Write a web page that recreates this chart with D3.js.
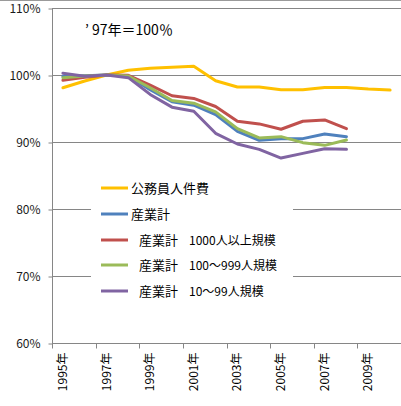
<!DOCTYPE html>
<html><head><meta charset="utf-8">
<script src="https://cdn.jsdelivr.net/npm/d3@7"></script>
<style>body{margin:0;background:#fff}svg{display:block}</style>
</head><body>
<script>
const years = ["1995年","1996年","1997年","1998年","1999年","2000年","2001年","2002年","2003年","2004年","2005年","2006年","2007年","2008年","2009年","2010年"];
const yTicks = [60,70,80,90,100,110];
const seriesNames = ["公務員人件費","産業計","産業計　1000人以上規模","産業計　100～999人規模","産業計　10～99人規模"];
const publicCost = [98.1,99.1,100,100.7,101.0,101.15,101.3,99.15,98.2,98.2,97.8,97.8,98.15,98.15,97.9,97.75];
const industryAll = [99.8,99.9,100,99.8,97.8,96.0,95.5,94.1,91.6,90.25,90.5,90.5,91.2,90.8];
const industryLarge = [99.2,99.65,100,99.95,98.5,96.9,96.5,95.3,93.1,92.7,91.9,93.1,93.3,92.0];
const industryMid = [99.6,99.85,100,99.85,98.1,96.2,95.8,94.5,92.0,90.6,90.8,89.9,89.5,90.3];
const industrySmall = [100.25,99.8,100,99.6,97.1,95.2,94.6,91.3,89.7,88.9,87.6,88.3,89.0,88.9];
const colors = ["#FFC000","#4F81BD","#C0504D","#9BBB59","#8064A2"];
const allSeries = [publicCost,industryAll,industryLarge,industryMid,industrySmall];

const W=401,H=406;
const svg=d3.select("body").append("svg").attr("width",W).attr("height",H);
const font='"Noto Sans CJK JP","Noto Sans",sans-serif';
const x=d3.scaleBand().domain(years).range([52,401]);
const y=d3.scaleLinear().domain([60,110]).range([343,8]);
const grid="#868686";

// top border
svg.append("line").attr("x1",0).attr("x2",W).attr("y1",0.5).attr("y2",0.5).attr("stroke","#9a9a9a");

// gridlines
svg.append("g").selectAll("line").data(yTicks.filter(d=>d>60)).join("line")
  .attr("x1",52).attr("x2",401).attr("y1",d=>Math.round(y(d))+0.5).attr("y2",d=>Math.round(y(d))+0.5)
  .attr("stroke",grid);

// y axis
const yAxis=d3.axisLeft(y).tickValues(yTicks).tickFormat(d=>d+"%").tickSize(4).tickPadding(8);
const gy=svg.append("g").attr("transform","translate(52.5,0.5)").call(yAxis);
gy.select(".domain").attr("stroke",grid).attr("d","M0,"+y(110)+"V"+y(60));
gy.selectAll(".tick line").attr("stroke",grid);
gy.selectAll("text").attr("font-family",font).attr("font-size",12).attr("fill","#1a1a1a");

// x axis
const xAxis=d3.axisBottom(x).tickValues([]).tickSize(0);
const gx=svg.append("g").attr("transform","translate(0,343.5)").call(xAxis);
gx.select(".domain").attr("stroke",grid).attr("d","M52,0H401");
const bounds=years.filter((d,i)=>i%2===0).map(d=>x(d)).concat([401]);
gx.selectAll(".tk").data(bounds).join("line").attr("class","tk")
  .attr("x1",d=>Math.round(d)+0.5).attr("x2",d=>Math.round(d)+0.5).attr("y1",0).attr("y2",5).attr("stroke",grid);
gx.selectAll(".lbl").data(years.filter((d,i)=>i%2===0)).join("text").attr("class","lbl")
  .attr("transform",d=>`translate(${x(d)+x.bandwidth()/2+4},9) rotate(-90)`)
  .attr("text-anchor","end").attr("font-family",font).attr("font-size",12).attr("fill","#000").text(d=>d);

// lines
const line=d3.line().x((d,i)=>x(years[i])+x.bandwidth()/2).y(d=>y(d));
svg.append("g").selectAll("path").data(allSeries).join("path")
  .attr("d",d=>line(d)).attr("fill","none").attr("stroke",(d,i)=>colors[i])
  .attr("stroke-width",3).attr("stroke-linejoin","round").attr("stroke-linecap","round");

// annotation
svg.append("text").attr("x",85).attr("y",35).attr("font-family",font).attr("font-size",14).attr("fill","#000").text("’ 97年＝100％");

// legend
const lg=svg.append("g");
lg.append("rect").attr("x",91).attr("y",172).attr("width",202).attr("height",133).attr("fill","#fff");
const ly=[188,214,240,265,291];
seriesNames.forEach((n,i)=>{
  lg.append("line").attr("x1",101).attr("x2",128).attr("y1",ly[i]).attr("y2",ly[i]).attr("stroke",colors[i]).attr("stroke-width",3);
  const t=lg.append("text").attr("y",ly[i]).attr("dy","0.36em").attr("font-family",font).attr("font-size",13).attr("fill","#000");
  if(i<2){t.attr("x",131).text(n);}
  else{
    const parts=n.split("　");
    t.append("tspan").attr("x",139).text(parts[0]);
    t.append("tspan").attr("x",189).attr("font-size",12).text(parts[1]);
  }
});
</script>
</body></html>
